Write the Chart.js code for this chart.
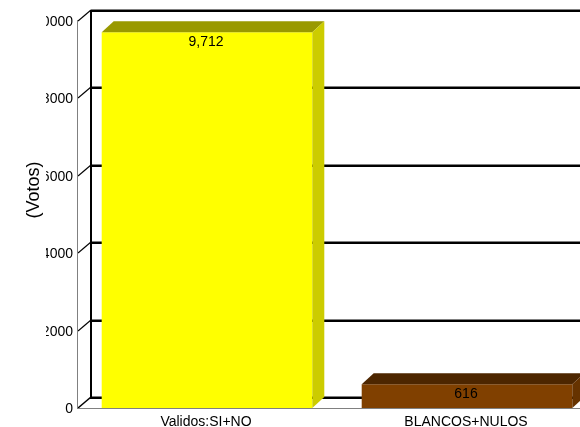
<!DOCTYPE html>
<html><head><meta charset="utf-8">
<script src="https://cdn.jsdelivr.net/npm/chart.js@4/dist/chart.umd.min.js"></script>
<style>
html,body{margin:0;padding:0;background:#fff;overflow:hidden}
#wrap{width:580px;height:427px;overflow:hidden;position:relative;background:#fff}
canvas{display:block}
</style></head><body>
<div id="wrap"><canvas id="c" width="600" height="427"></canvas></div>
<script>
// ---- data ----
const categories = ["Validos:SI+NO", "BLANCOS+NULOS"];
const votes = [9712, 616];
const valueLabels = ["9,712", "616"];
const tickValues = [0, 2000, 4000, 6000, 8000, 10000];
const tickLabels = ["0", "2000", "4000", "6000", "8000", "10000"];
const axisTitle = "(Votos)";

// ---- styles ----
const frontColors = ["#FFFF00", "#804000"];
const topColors = ["#999900", "#4D2600"];
const sideColors = ["#CCCC00", "#663300"];
const FONT = "'Liberation Sans', Arial, sans-serif";
const DX = 13, DY = 11, BDX = 12, BDY = 11;

const threeD = {
  id: 'threeD',
  beforeDatasetsDraw(chart) {
    const { ctx, chartArea: a, scales: { y } } = chart;
    const W = chart.width;
    const fx = a.left + 1;
    const bx = fx + DX;
    ctx.save();
    // back wall gridlines + left wall diagonals
    tickValues.forEach(v => {
      const fy = Math.round(y.getPixelForValue(v));
      const by = fy - DY;
      ctx.fillStyle = '#808080';
      ctx.fillRect(bx, by - 1, W - bx, 1);
      ctx.fillStyle = '#000';
      ctx.fillRect(bx, by, W - bx, 2);
      ctx.strokeStyle = '#000';
      ctx.lineWidth = v === 0 ? 1.6 : 1.1;
      ctx.beginPath();
      ctx.moveTo(fx, fy);
      ctx.lineTo(bx, by);
      ctx.stroke();
    });
    // back wall left edge
    const topB = Math.round(y.getPixelForValue(tickValues[tickValues.length - 1])) - DY;
    const botB = Math.round(y.getPixelForValue(0)) - DY;
    ctx.fillStyle = '#000';
    ctx.fillRect(bx - 1, topB, 2, botB - topB + 2);
    // front axis line (gray)
    const y0 = Math.round(y.getPixelForValue(0));
    const yT = Math.round(y.getPixelForValue(tickValues[tickValues.length - 1]));
    ctx.fillStyle = '#808080';
    ctx.fillRect(fx - 1, yT - 1, 1, y0 - yT + 1);
    // front floor edge (gray)
    ctx.fillRect(fx - 1, y0, W - fx, 1);
    ctx.restore();
  },
  afterDatasetsDraw(chart) {
    const { ctx } = chart;
    const meta = chart.getDatasetMeta(0);
    ctx.save();
    meta.data.forEach((bar, i) => {
      const p = bar.getProps(['x', 'y', 'base', 'width'], true);
      const l = p.x - p.width / 2, r = p.x + p.width / 2;
      const t = p.y, b = p.base;
      // top face
      ctx.fillStyle = topColors[i];
      ctx.beginPath();
      ctx.moveTo(l, t); ctx.lineTo(l + BDX, t - BDY); ctx.lineTo(r + BDX, t - BDY); ctx.lineTo(r, t);
      ctx.closePath(); ctx.fill();
      // side face
      ctx.fillStyle = sideColors[i];
      ctx.beginPath();
      ctx.moveTo(r, t); ctx.lineTo(r + BDX, t - BDY); ctx.lineTo(r + BDX, b - BDY); ctx.lineTo(r, b);
      ctx.closePath(); ctx.fill();
    });
    ctx.restore();
  },
  afterDraw(chart) {
    const { ctx, chartArea: a, scales: { y } } = chart;
    const meta = chart.getDatasetMeta(0);
    ctx.save();
    ctx.fillStyle = '#000';
    ctx.font = '14px ' + FONT;
    ctx.textAlign = 'center';
    ctx.textBaseline = 'alphabetic';
    meta.data.forEach((bar, i) => {
      ctx.fillText(valueLabels[i], bar.x - 1, bar.y + 14);
      ctx.fillText(categories[i], bar.x - 1, 426);
    });
    // y tick labels (clipped at left as in reference)
    ctx.save();
    ctx.beginPath();
    ctx.rect(46, 0, 100, chart.height);
    ctx.clip();
    ctx.textAlign = 'right';
    ctx.textBaseline = 'middle';
    tickValues.forEach((v, i) => {
      ctx.fillText(tickLabels[i], 73, Math.round(y.getPixelForValue(v)) + 1);
    });
    ctx.restore();
    // axis title
    ctx.save();
    ctx.translate(34, 190);
    ctx.rotate(-Math.PI / 2);
    ctx.font = '18px ' + FONT;
    ctx.textAlign = 'center';
    ctx.textBaseline = 'middle';
    ctx.fillText(axisTitle, 0, 0);
    ctx.restore();
    ctx.restore();
  }
};

new Chart(document.getElementById('c'), {
  type: 'bar',
  data: {
    labels: categories,
    datasets: [{
      data: votes,
      backgroundColor: frontColors,
      borderWidth: 0,
      barPercentage: 0.9,
      categoryPercentage: 0.9
    }]
  },
  options: {
    responsive: false,
    animation: false,
    devicePixelRatio: 1,
    layout: { padding: { left: 77, right: 3, top: 21, bottom: 19 } },
    scales: {
      x: { type: 'category', display: false, offset: true },
      y: { min: 0, max: 10000, display: false }
    },
    plugins: { legend: { display: false }, tooltip: { enabled: false } }
  },
  plugins: [threeD]
});
</script>
</body></html>
